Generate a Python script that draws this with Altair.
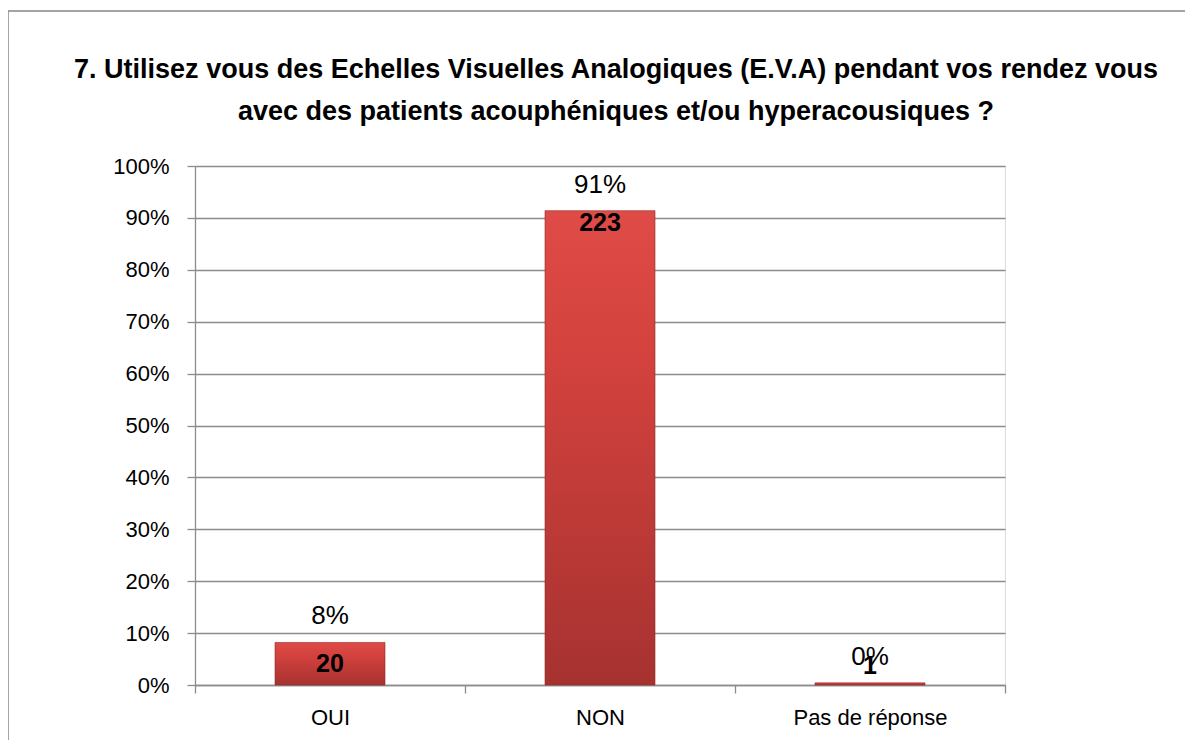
import altair as alt
import pandas as pd

categories = ["OUI", "NON", "Pas de réponse"]
counts = [20, 223, 1]
pct_labels = ["8%", "91%", "0%"]

total = sum(counts)
df = pd.DataFrame({
    "cat": categories,
    "count": counts,
    "pct": [c / total for c in counts],
    "pct_label": pct_labels,
})

title_lines = [
    "7. Utilisez vous des Echelles Visuelles Analogiques (E.V.A) pendant vos rendez vous",
    "avec des patients acouphéniques et/ou hyperacousiques ?",
]

FONT = "Liberation Sans"
GRAY = "#8c8c8c"

x_enc = alt.X(
    "cat:N",
    sort=categories,
    title=None,
    scale=alt.Scale(paddingInner=0, paddingOuter=0),
    axis=alt.Axis(
        labelAngle=0,
        tickBand="extent",
        tickSize=8,
        tickColor=GRAY,
        tickWidth=1.3,
        domainColor=GRAY,
        domainWidth=1.3,
        labelFont=FONT,
        labelFontSize=22,
        labelColor="#000000",
        labelPadding=14,
        grid=False,
    ),
)

y_enc = alt.Y(
    "pct:Q",
    title=None,
    scale=alt.Scale(domain=[0, 1]),
    axis=alt.Axis(
        format=".0%",
        values=[i / 10 for i in range(11)],
        tickSize=8,
        tickColor=GRAY,
        tickWidth=1.3,
        domainColor=GRAY,
        domainWidth=1.3,
        gridColor=GRAY,
        gridWidth=1.3,
        labelFont=FONT,
        labelFontSize=22,
        labelColor="#000000",
        labelPadding=18,
    ),
)

base = alt.Chart(df)

grad = alt.LinearGradient(
    gradient="linear",
    stops=[
        alt.GradientStop(color="#df4c48", offset=0),
        alt.GradientStop(color="#d4423e", offset=0.3),
        alt.GradientStop(color="#a63230", offset=1),
    ],
    x1=0, x2=0, y1=0, y2=1,
)

bars = base.mark_bar(size=110, color=grad, stroke="#8e2826", strokeWidth=0.6).encode(
    x=x_enc, y=y_enc
)

pct_text = base.mark_text(
    font=FONT, fontSize=26, baseline="alphabetic", dy=-18, color="#000000"
).encode(x=alt.X("cat:N", sort=categories), y="pct:Q", text="pct_label:N")

count_text = base.transform_calculate(
    lab="datum.pct > 0.5 ? datum.pct - 0.024 : max(datum.pct / 2, 0.037)"
).mark_text(
    font=FONT, fontSize=25, fontWeight="bold", baseline="middle", color="#000000"
).encode(x=alt.X("cat:N", sort=categories), y="lab:Q", text="count:Q")

title_df = pd.DataFrame({"t": title_lines, "line": [0, 1]})
title1 = alt.Chart(title_df).transform_filter("datum.line == 0").mark_text(
    font=FONT, fontSize=27, fontWeight="bold", baseline="alphabetic",
    align="center", color="#000000"
).encode(x=alt.value(421), y=alt.value(-88), text="t:N")
title2 = alt.Chart(title_df).transform_filter("datum.line == 1").mark_text(
    font=FONT, fontSize=27, fontWeight="bold", baseline="alphabetic",
    align="center", color="#000000"
).encode(x=alt.value(421), y=alt.value(-46), text="t:N")

border = alt.Chart(pd.DataFrame({"a": [0]})).mark_rect(
    fillOpacity=0, stroke="#878787", strokeWidth=1.5
).encode(
    x=alt.value(-187), x2=alt.value(1200),
    y=alt.value(-155), y2=alt.value(800),
)

chart = alt.layer(bars, pct_text, count_text, title1, title2, border).properties(
    width=810,
    height=519,
    padding={"left": 187, "top": 158, "right": 180, "bottom": 55},
    autosize=alt.AutoSizeParams(type="none"),
).configure_view(stroke=None).configure(background="white")

chart.save("out.html", embed_options={"renderer": "svg", "actions": False})
